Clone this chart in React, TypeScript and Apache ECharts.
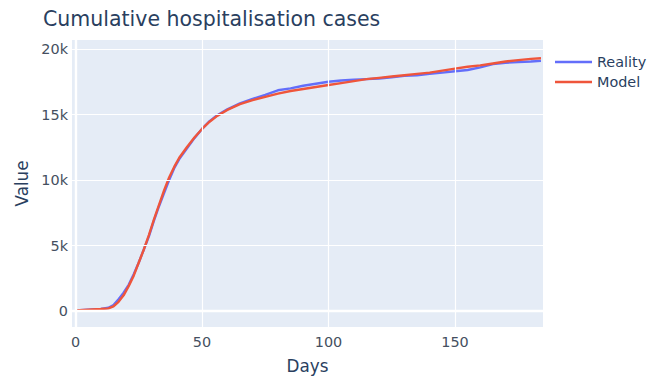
import React, { useEffect, useRef } from "react";
import * as echarts from "echarts";

const days = [0, 5, 10, 13, 15, 17, 19, 21, 23, 25, 27, 29, 31, 33, 35, 37, 39, 41, 44, 47, 50, 53, 56, 60, 65, 70, 75, 80, 85, 90, 95, 100, 105, 110, 115, 120, 125, 130, 135, 140, 145, 150, 155, 160, 165, 170, 175, 180, 184];
const reality = [50, 100, 150, 250, 450, 900, 1400, 2000, 2800, 3700, 4700, 5700, 6900, 8000, 9000, 10000, 10900, 11600, 12400, 13200, 13900, 14500, 14950, 15400, 15850, 16200, 16500, 16850, 17000, 17200, 17350, 17500, 17600, 17650, 17700, 17750, 17850, 17950, 18000, 18100, 18200, 18300, 18400, 18600, 18850, 18950, 19000, 19050, 19100];
const model = [50, 100, 150, 200, 350, 700, 1200, 1900, 2700, 3700, 4700, 5800, 7000, 8100, 9200, 10200, 11000, 11700, 12500, 13250, 13900, 14450, 14900, 15350, 15800, 16100, 16350, 16600, 16800, 16950, 17100, 17250, 17400, 17550, 17700, 17800, 17900, 18000, 18100, 18200, 18350, 18500, 18650, 18750, 18900, 19050, 19150, 19250, 19300];
const xTicks = [0, 50, 100, 150];
const yTicks = [0, 5000, 10000, 15000, 20000];

const FONT = "DejaVu Sans";
const TXT = "#2a3f5f";
const TICK = "#454f60";

export default function App() {
  const ref = useRef<HTMLDivElement>(null);
  useEffect(() => {
    if (!ref.current) return;
    const chart = echarts.init(ref.current, null, { renderer: "svg" });
    const gridLines: any[] = [];
    yTicks.forEach((v) =>
      gridLines.push({ yAxis: v, lineStyle: { color: "#ffffff", width: v === 0 ? 2.4 : 1.2, type: "solid" } })
    );
    xTicks.forEach((v) =>
      gridLines.push({ xAxis: v, lineStyle: { color: "#ffffff", width: v === 0 ? 2.4 : 1.2, type: "solid" } })
    );
    chart.setOption({
      animation: false,
      title: {
        text: "Cumulative hospitalisation cases",
        left: 43,
        top: 8,
        padding: 0,
        textStyle: { fontFamily: FONT, fontSize: 20.5, fontWeight: "normal", color: TXT },
      },
      legend: {
        data: [
          { name: "Reality", icon: "rect" },
          { name: "Model", icon: "rect" },
        ],
        orient: "vertical",
        left: 555,
        top: 55,
        itemWidth: 37,
        itemHeight: 2.4,
        itemGap: 6,
        padding: 0,
        textStyle: { fontFamily: FONT, fontSize: 14.4, color: TXT },
      },
      grid: {
        left: 72,
        right: 124,
        top: 40,
        bottom: 52,
        show: true,
        backgroundColor: "#E5ECF6",
        borderWidth: 0,
      },
      xAxis: {
        type: "value",
        min: -1.4,
        max: 184.8,
        name: "Days",
        nameLocation: "middle",
        nameGap: 30,
        nameTextStyle: { fontFamily: FONT, fontSize: 16.8, color: TXT },
        axisLine: { show: false },
        axisTick: { show: false },
        splitLine: { show: false },
        axisLabel: {
          customValues: xTicks,
          margin: 8,
          fontFamily: FONT,
          fontSize: 14.4,
          color: TICK,
        },
      },
      yAxis: {
        type: "value",
        min: -1220,
        max: 20690,
        name: "Value",
        nameLocation: "middle",
        nameGap: 39,
        nameTextStyle: { fontFamily: FONT, fontSize: 16.8, color: TXT },
        axisLine: { show: false },
        axisTick: { show: false },
        splitLine: { show: false },
        axisLabel: {
          customValues: yTicks,
          margin: 4,
          fontFamily: FONT,
          fontSize: 14.4,
          color: TICK,
          formatter: (v: number) => (v === 0 ? "0" : v / 1000 + "k"),
        },
      },
      series: [
        {
          name: "grid",
          type: "line",
          data: [],
          z: 1,
          silent: true,
          markLine: {
            silent: true,
            symbol: ["none", "none"],
            label: { show: false },
            data: gridLines,
          },
        },
        {
          name: "Reality",
          type: "line",
          z: 3,
          symbol: "none",
          data: days.map((d, i) => [d, reality[i]]),
          lineStyle: { color: "#636efa", width: 2.4 },
          itemStyle: { color: "#636efa" },
        },
        {
          name: "Model",
          type: "line",
          z: 4,
          symbol: "none",
          data: days.map((d, i) => [d, model[i]]),
          lineStyle: { color: "#EF553B", width: 2.4 },
          itemStyle: { color: "#EF553B" },
        },
      ],
    });
    return () => chart.dispose();
  }, []);
  return <div ref={ref} style={{ width: 667, height: 379, position: "absolute", left: 0, top: 0 }} />;
}
